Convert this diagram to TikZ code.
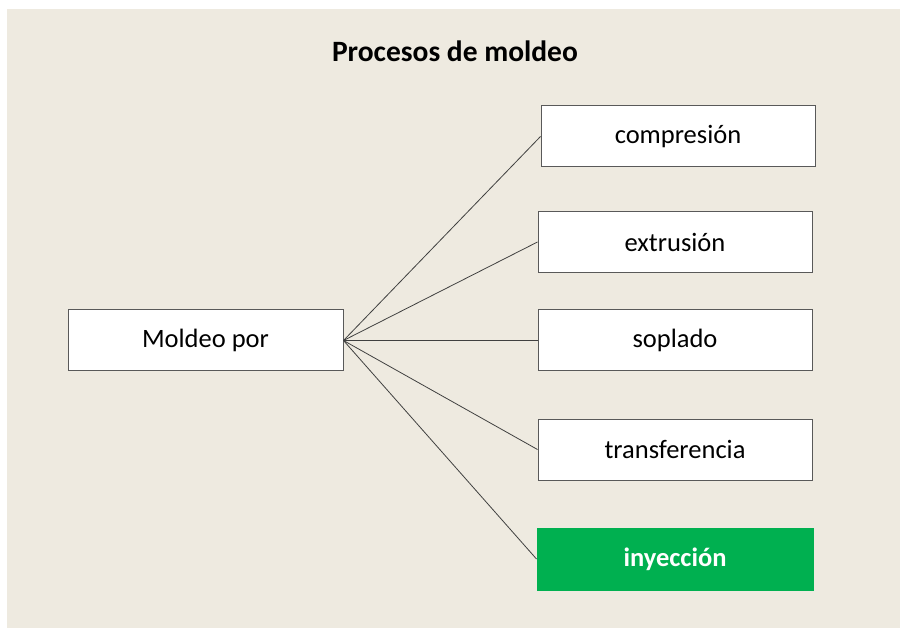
\documentclass[tikz,border=0pt]{standalone}
\usepackage{fontspec}
\setmainfont{Carlito}
\definecolor{bgbeige}{HTML}{EEEAE0}
\definecolor{boxline}{HTML}{595959}
\definecolor{conn}{HTML}{404040}
\definecolor{hlgreen}{HTML}{00B050}
\begin{document}
\begin{tikzpicture}[x=1pt,y=-1pt,
  itembox/.style={draw=boxline,line width=1pt,fill=white,minimum height=61pt,inner sep=0pt,font=\fontsize{26.5}{30}\selectfont},
  connline/.style={draw=conn,line width=0.8pt}]
\useasboundingbox (0,0) rectangle (900,628);
\fill[bgbeige] (7,9) rectangle (900,628);
\node (title) at (455,51) {\fontsize{29.5}{34}\selectfont\bfseries Procesos de moldeo};
\node[itembox,minimum width=275pt] (moldeo) at (205.5,340.5) {Moldeo por};
\node[itembox,minimum width=274pt] (comp) at (678,136.5) {compresión};
\node[itembox,minimum width=274pt] (extr) at (675,242) {extrusión};
\node[itembox,minimum width=274pt] (sopl) at (675,340.5) {soplado};
\node[itembox,minimum width=274pt] (trans) at (675,449.5) {transferencia};
\node[itembox,draw=hlgreen,fill=hlgreen,text=white,minimum width=276pt,minimum height=62pt,font=\fontsize{26.5}{30}\selectfont\bfseries] (iny) at (675,559) {inyección};
\foreach \t in {comp,extr,sopl,trans,iny}
  \draw[connline] (moldeo.east) -- (\t.west);
\end{tikzpicture}
\end{document}
